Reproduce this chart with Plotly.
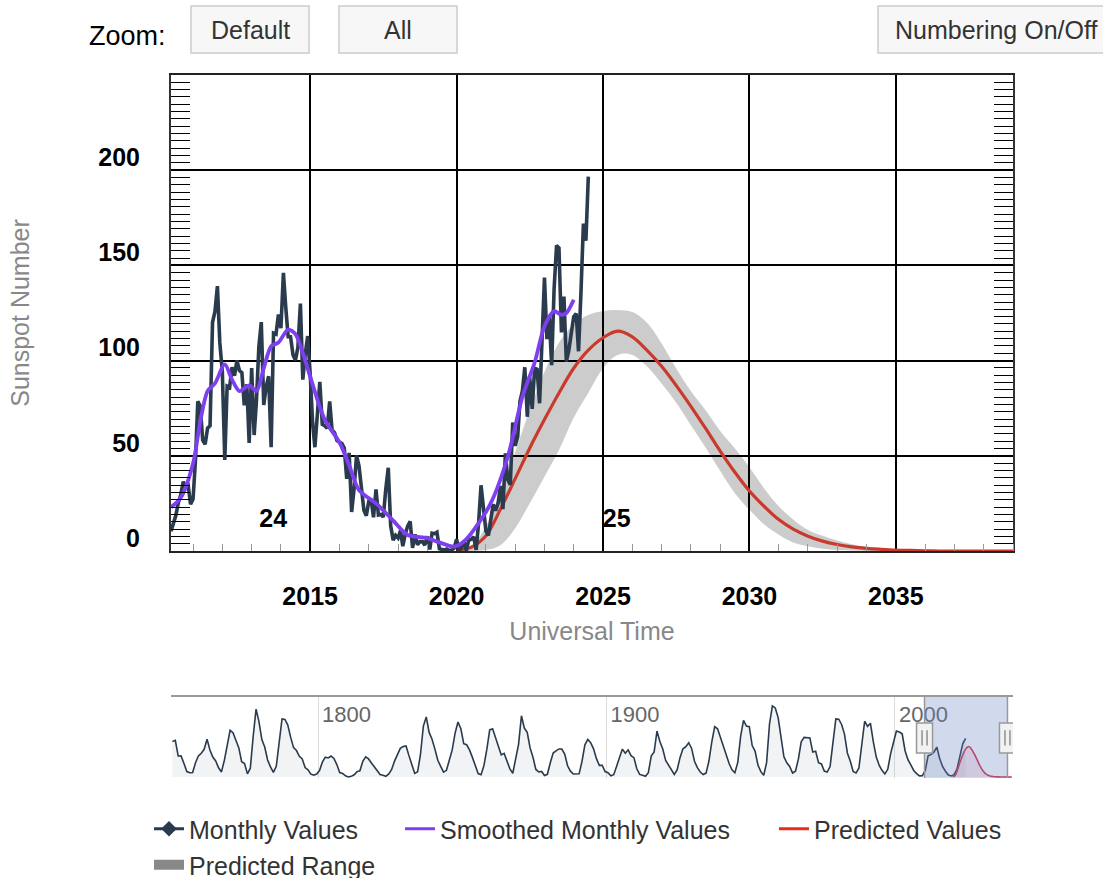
import plotly.graph_objects as go
import pandas as pd

FONT = "Liberation Sans, Arial, sans-serif"

# ---------------- data ----------------
# Monthly mean sunspot numbers, one value per month starting April 2010
monthly_start = "2010-04-01"
monthly_values = [
    10.4, 13.9, 18.8, 25.2, 29.6, 36.4, 33.6, 34.4, 24.5,
    27.3, 48.3, 78.6, 76.1, 58.2, 56.1, 64.5, 65.8, 120.1, 125.7, 139.1, 109.3,
    94.4, 47.8, 86.6, 85.9, 96.5, 92.0, 100.1, 94.8, 93.7, 76.5, 87.6, 56.8,
    96.1, 60.9, 78.3, 107.3, 120.2, 76.7, 86.2, 91.8, 54.5, 114.4, 113.9, 124.2,
    117.0, 146.1, 128.7, 112.5, 112.5, 102.9, 100.2, 106.9, 130.0, 90.0, 103.6, 112.9,
    93.0, 66.7, 54.5, 75.3, 88.8, 66.5, 65.8, 64.4, 78.6, 63.6, 62.2, 58.0,
    57.0, 56.4, 54.1, 37.9, 51.5, 20.5, 32.4, 50.2, 44.6, 33.4, 21.4, 18.5,
    26.1, 26.4, 17.7, 32.3, 18.9, 19.2, 17.8, 32.6, 43.7, 13.2, 5.7, 8.2,
    6.8, 10.7, 2.5, 8.9, 13.1, 15.6, 1.6, 8.7, 3.3, 4.9, 4.9, 3.1,
    7.7, 0.8, 9.4, 9.1, 9.9, 1.2, 0.9, 0.5, 1.1, 0.4, 0.5, 1.5,
    6.2, 0.2, 1.5, 5.2, 0.2, 5.8, 6.1, 7.5, 0.6, 14.4, 34.5, 23.1,
    10.4, 8.2, 17.2, 24.5, 21.2, 25.0, 34.2, 22.0, 51.3, 37.4, 34.8, 67.5,
    55.3, 59.9, 78.5, 84.1, 96.5, 70.5, 91.4, 74.6, 96.0, 95.5, 77.6, 113.1,
    143.6, 111.3, 123.3, 97.6, 137.4, 160.5, 159.1, 114.8, 133.6, 99.4, 105.4, 114.2,
    123.0, 124.7, 104.9, 136.5, 172.0, 163.0, 196.6,
]

# Smoothed monthly values
smoothed_dates = [
    "2010-04", "2010-08", "2011-01", "2011-04", "2011-07", "2011-10", "2012-02",
    "2012-05", "2012-08", "2012-12", "2013-03", "2013-06", "2013-09", "2013-12",
    "2014-04", "2014-07", "2014-10", "2015-01", "2015-07", "2016-01", "2016-05",
    "2016-09", "2017-04", "2017-11", "2018-05", "2019-01", "2019-06", "2019-12",
    "2020-04", "2020-08", "2021-03", "2021-10", "2022-04", "2022-09", "2023-01",
    "2023-05", "2023-08", "2023-10", "2024-01",
]
smoothed_values = [
    23, 28, 46, 68, 84, 88, 98,
    90, 84, 87, 84, 96, 107.5, 109.5,
    116.3, 114, 104, 91.6, 69, 57, 45,
    32, 25, 16, 8.4, 6.8, 4.5, 2.3,
    5, 11, 25, 49.5, 81, 99, 118,
    126, 124, 125, 132,
]

# Predicted values and predicted range, every half year from Jan 2020
pred_start = "2020-01-01"
pred_values = [
    0.5, 2, 8, 22, 38, 54, 69, 83, 96, 105.5,
    112, 115.5, 112.5, 105.5, 97, 87, 76, 64.5, 52.5, 41.5,
    31.5, 23.5, 16.5, 11.5, 7.8, 5.2, 3.4, 2.2, 1.4, 0.9,
    0.5, 0.3, 0.1, 0, 0, 0, 0, 0, 0, 0, 0, 0,
]
pred_high = [
    0, 2.5, 13, 31, 52, 74, 94, 109.5, 119, 124,
    126, 126.5, 125.5, 120, 109, 96, 84, 74, 63, 54,
    44, 33, 23.5, 16.5, 11, 8, 5.5, 3.6, 2.2, 1.2,
    0.5, 0.2, 0, 0, 0, 0, 0, 0, 0, 0, 0, 0,
]
pred_low = [
    0, 0, 0.5, 3, 12, 25, 39, 53, 70, 83,
    96, 103, 103, 97, 88, 78, 66, 54.5, 42, 30.5,
    21.6, 14, 8.5, 4.5, 2.5, 1.2, 0.5, 0.2, 0, 0,
    0, 0, 0, 0, 0, 0, 0, 0, 0, 0, 0, 0,
]

# Cycle number labels
cycle_labels = ["24", "25"]
cycle_label_dates = ["2013-09-27", "2025-06-20"]
cycle_label_y = [16, 16]

# Navigator: yearly sunspot numbers 1749-2024
nav_start_year = 1749
nav_values = [
    134.7, 139.0, 79.5, 79.7, 51.2, 20.3, 16.0, 17.0, 54.0, 79.3,
    90.0, 104.8, 143.2, 102.0, 75.2, 60.7, 34.8, 19.0, 63.0, 116.3,
    176.8, 168.0, 136.0, 110.8, 58.0, 51.0, 11.7, 33.0, 154.2, 257.3,
    209.8, 141.3, 113.5, 64.2, 38.0, 17.0, 40.2, 138.2, 220.0, 218.2,
    196.8, 149.8, 111.0, 100.0, 78.2, 68.3, 35.5, 26.7, 10.7, 6.8,
    11.3, 24.2, 56.7, 75.0, 71.8, 79.2, 70.3, 46.8, 16.8, 13.5,
    4.2, 0.0, 2.3, 8.3, 20.3, 23.2, 59.0, 76.3, 68.3, 52.9,
    38.5, 24.2, 9.2, 6.3, 2.2, 11.4, 28.2, 59.9, 83.0, 108.5,
    115.2, 117.4, 80.8, 44.3, 13.4, 19.5, 85.8, 192.7, 227.3, 168.7,
    143.0, 105.5, 63.3, 40.3, 18.1, 25.1, 65.8, 102.7, 166.3, 208.3,
    182.5, 126.3, 122.0, 102.7, 74.1, 39.0, 12.7, 8.2, 43.4, 104.4,
    178.3, 182.2, 146.6, 112.1, 83.5, 89.3, 57.8, 30.7, 13.9, 62.8,
    123.6, 232.0, 185.3, 169.2, 110.1, 74.5, 28.3, 18.9, 20.7, 5.7,
    10.0, 53.7, 90.5, 99.0, 106.1, 105.8, 86.3, 42.4, 21.8, 11.2,
    10.4, 11.8, 59.5, 121.7, 142.0, 130.0, 106.6, 69.4, 43.8, 44.4,
    20.2, 15.7, 4.6, 8.5, 40.8, 70.1, 105.5, 90.1, 102.8, 80.9,
    73.2, 30.9, 9.5, 6.0, 2.4, 16.1, 79.0, 95.0, 173.6, 134.6,
    105.7, 62.7, 43.5, 23.7, 9.7, 27.9, 74.0, 106.5, 114.7, 129.7,
    108.2, 59.4, 35.1, 18.6, 9.2, 14.6, 60.2, 132.8, 190.6, 182.6,
    148.0, 113.0, 79.2, 50.8, 27.1, 16.1, 55.3, 154.3, 214.7, 193.0,
    190.7, 118.9, 98.3, 45.0, 20.1, 6.6, 54.2, 200.7, 269.3, 261.7,
    225.1, 159.0, 76.4, 53.4, 39.9, 15.0, 22.0, 66.8, 132.9, 150.0,
    149.4, 148.0, 94.4, 97.6, 54.1, 49.2, 22.5, 18.4, 39.3, 131.0,
    220.1, 218.9, 198.9, 162.4, 91.0, 60.5, 20.6, 14.8, 33.9, 123.0,
    211.1, 191.8, 203.3, 133.0, 76.1, 44.9, 25.1, 11.6, 28.9, 88.3,
    136.3, 173.9, 170.4, 163.6, 99.3, 65.3, 45.8, 24.7, 12.6, 4.2,
    4.8, 24.9, 80.8, 84.5, 94.0, 113.3, 69.8, 39.8, 21.7, 7.0,
    3.6, 8.8, 29.6, 83.2, 125.5, 146.0,
]

y_tick_values = [0, 50, 100, 150, 200]
main_range = ["2010-04-01", "2039-01-01"]
nav_range = ["1749-01-01", "2040-12-01"]

legend_names = ["Monthly Values", "Smoothed Monthly Values", "Predicted Values", "Predicted Range"]

# ---------------- derived x values ----------------
monthly_dates = pd.date_range(monthly_start, periods=len(monthly_values), freq="MS")
pred_dates = pd.date_range(pred_start, periods=len(pred_values), freq="6MS")
nav_dates = pd.to_datetime([f"{nav_start_year + i}-07-01" for i in range(len(nav_values))])

# ---------------- geometry helpers ----------------
W, H = 1103, 878
ML, MR, MT, MB = 171, 90, 75, 100
PW = W - ML - MR
PH = H - MT - MB


def pxx(x):
    """page pixel x -> paper x"""
    return (x - ML) / PW


def pxy(y):
    """page pixel y -> paper y"""
    return (H - MB - y) / PH


NAVY = "#2a3b4d"
PURPLE = "#7d3ff0"
RED = "#c83a2c"
SM = 1.0

fig = go.Figure()

# predicted range band
fig.add_trace(go.Scatter(x=pred_dates, y=pred_low, mode="lines",
                         line=dict(width=0, shape="spline", smoothing=SM),
                         showlegend=False, hoverinfo="skip"))
fig.add_trace(go.Scatter(x=pred_dates, y=pred_high, mode="lines",
                         line=dict(width=0, shape="spline", smoothing=SM),
                         fill="tonexty", fillcolor="rgba(0,0,0,0.2)",
                         showlegend=False, hoverinfo="skip"))
# predicted values
fig.add_trace(go.Scatter(x=pred_dates, y=pred_values, mode="lines",
                         line=dict(color=RED, width=3.2, shape="spline", smoothing=SM),
                         showlegend=False))
# monthly values
fig.add_trace(go.Scatter(x=monthly_dates, y=monthly_values, mode="lines",
                         line=dict(color=NAVY, width=3.6), showlegend=False))
# smoothed values
fig.add_trace(go.Scatter(x=pd.to_datetime(smoothed_dates), y=smoothed_values, mode="lines",
                         line=dict(color=PURPLE, width=3.8, shape="spline", smoothing=0.8),
                         showlegend=False))
# cycle labels
fig.add_trace(go.Scatter(x=pd.to_datetime(cycle_label_dates), y=cycle_label_y, mode="text",
                         text=cycle_labels,
                         textfont=dict(family=FONT, size=25, color="black", weight="bold"),
                         showlegend=False, hoverinfo="skip"))

# navigator
fig.add_trace(go.Scatter(x=nav_dates, y=nav_values, mode="lines", xaxis="x2", yaxis="y2",
                         line=dict(color=NAVY, width=1.6), fill="tozeroy",
                         fillcolor="rgba(60,90,110,0.07)", showlegend=False, hoverinfo="skip"))
fig.add_trace(go.Scatter(x=pred_dates, y=pred_values, mode="lines", xaxis="x2", yaxis="y2",
                         line=dict(color="#d8304a", width=1.6, shape="spline", smoothing=SM),
                         fill="tozeroy", fillcolor="rgba(230,60,90,0.12)",
                         showlegend=False, hoverinfo="skip"))

# legend entries
fig.add_trace(go.Scatter(x=[None], y=[None], mode="lines+markers", name=legend_names[0],
                         line=dict(color=NAVY, width=3),
                         marker=dict(symbol="diamond", size=12, color=NAVY), legend="legend"))
fig.add_trace(go.Scatter(x=[None], y=[None], mode="lines", name=legend_names[1],
                         line=dict(color=PURPLE, width=3), legend="legend2"))
fig.add_trace(go.Scatter(x=[None], y=[None], mode="lines", name=legend_names[2],
                         line=dict(color="#ee2a1c", width=3), legend="legend3"))
fig.add_trace(go.Scatter(x=[None], y=[None], mode="lines", name=legend_names[3],
                         line=dict(color="#888888", width=10), legend="legend4"))

leg_common = dict(orientation="h", font=dict(family=FONT, size=25, color="#333333"),
                  bgcolor="rgba(0,0,0,0)", xanchor="left", yanchor="middle",
                  itemclick=False, itemdoubleclick=False, borderwidth=0)

shapes = []
# navigator mask and handles
shapes.append(dict(type="rect", xref="x2", yref="y2 domain", x0=main_range[0], x1=main_range[1],
                   y0=0, y1=1, fillcolor="rgba(102,133,194,0.3)", line=dict(width=0), layer="above"))
for edge in main_range:
    shapes.append(dict(type="line", xref="x2", yref="y2 domain", x0=edge, x1=edge, y0=0, y1=1,
                       line=dict(color="#999999", width=1.5), layer="above"))
    shapes.append(dict(type="rect", xref="x2", yref="y2 domain", xsizemode="pixel", xanchor=edge,
                       x0=-8, x1=8, y0=0.31, y1=0.68, fillcolor="#f2f2f2",
                       line=dict(color="#999999", width=1.5), layer="above"))
    for off in (-2.5, 2.5):
        shapes.append(dict(type="line", xref="x2", yref="y2 domain", xsizemode="pixel", xanchor=edge,
                           x0=off, x1=off, y0=0.40, y1=0.59,
                           line=dict(color="#777777", width=1.2), layer="above"))

# top buttons
buttons = [("Default", 191, 309), ("All", 339, 457), ("Numbering On/Off", 878, 1113)]
annotations = []
for label, bx0, bx1 in buttons:
    shapes.append(dict(type="rect", xref="paper", yref="paper", x0=pxx(bx0), x1=pxx(bx1),
                       y0=pxy(53), y1=pxy(6), fillcolor="#f7f7f7",
                       line=dict(color="#cccccc", width=1.5), layer="above"))
    annotations.append(dict(xref="paper", yref="paper", x=pxx((bx0 + bx1) / 2), y=pxy(30),
                            text=label, showarrow=False, xanchor="center", yanchor="middle",
                            font=dict(family=FONT, size=25, color="#333333")))
annotations.append(dict(xref="paper", yref="paper", x=pxx(168), y=pxy(36), text="Zoom:",
                        showarrow=False, xanchor="right", yanchor="middle",
                        font=dict(family=FONT, size=27, color="black")))

fig.update_layout(
    width=W, height=H, autosize=False,
    margin=dict(l=ML, r=MR, t=MT, b=MB, pad=0, autoexpand=False),
    paper_bgcolor="white", plot_bgcolor="white",
    font=dict(family=FONT),
    hovermode=False,
    shapes=shapes, annotations=annotations,
    legend=dict(x=pxx(149), y=pxy(829), **leg_common),
    legend2=dict(x=pxx(400), y=pxy(829), **leg_common),
    legend3=dict(x=pxx(774), y=pxy(829), **leg_common),
    legend4=dict(x=pxx(149), y=pxy(865), **leg_common),
    xaxis=dict(
        type="date", range=main_range, domain=[0, 1], anchor="y",
        tickmode="linear", tick0="2015-01-01", dtick="M60", tickformat="%Y",
        ticks="", showgrid=True, gridcolor="black", gridwidth=1.6,
        showline=True, linecolor="#222222", linewidth=2, mirror=True,
        tickfont=dict(family=FONT, size=25, color="black", weight="bold"),
        ticklabelstandoff=22,
        minor=dict(ticks="inside", ticklen=7, tickcolor="#999999", tickwidth=1.2,
                   dtick="M12", tick0="2010-01-01", showgrid=False),
        title=dict(text="Universal Time", font=dict(family=FONT, size=25, color="#888888"),
                   standoff=13),
        zeroline=False, automargin=False,
    ),
    yaxis=dict(
        range=[0, 250], domain=[pxy(551), 1], anchor="x",
        tickmode="array", tickvals=y_tick_values,
        ticks="inside", ticklen=19, tickcolor="black", tickwidth=1.6,
        showgrid=True, gridcolor="black", gridwidth=1.6,
        showline=True, linecolor="#333333", linewidth=2, mirror="allticks",
        tickfont=dict(family=FONT, size=25, color="black", weight="bold"),
        ticklabelstandoff=24, ticklabelshift=-13,
        minor=dict(ticks="inside", ticklen=19, tickcolor="black", tickwidth=1.3,
                   tickmode="linear", tick0=0, dtick=50 / 13, showgrid=False),
        title=dict(text="Sunspot Number", font=dict(family=FONT, size=25, color="#888888"),
                   standoff=62),
        zeroline=False, automargin=False,
    ),
    xaxis2=dict(
        type="date", range=nav_range, domain=[0, 1], anchor="y2", side="top",
        tickmode="linear", tick0="1800-01-01", dtick="M1200", tickformat="%Y",
        ticks="", ticklabelposition="inside right",
        ticklabelstandoff=8, ticklabelshift=3,
        tickfont=dict(family=FONT, size=22, color="#666666"),
        showgrid=True, gridcolor="#dddddd", gridwidth=1,
        showline=True, linecolor="#999999", linewidth=2, mirror=False,
        zeroline=False, automargin=False,
    ),
    yaxis2=dict(
        range=[-4, 303], domain=[0, pxy(697)], anchor="x2",
        showticklabels=False, ticks="", showgrid=False, zeroline=False, showline=False,
    ),
)

fig.write_html(
    "out.html",
    config={"displayModeBar": False, "staticPlot": False},
    post_script="document.body.style.margin='0px';document.body.style.overflow='hidden';",
)
